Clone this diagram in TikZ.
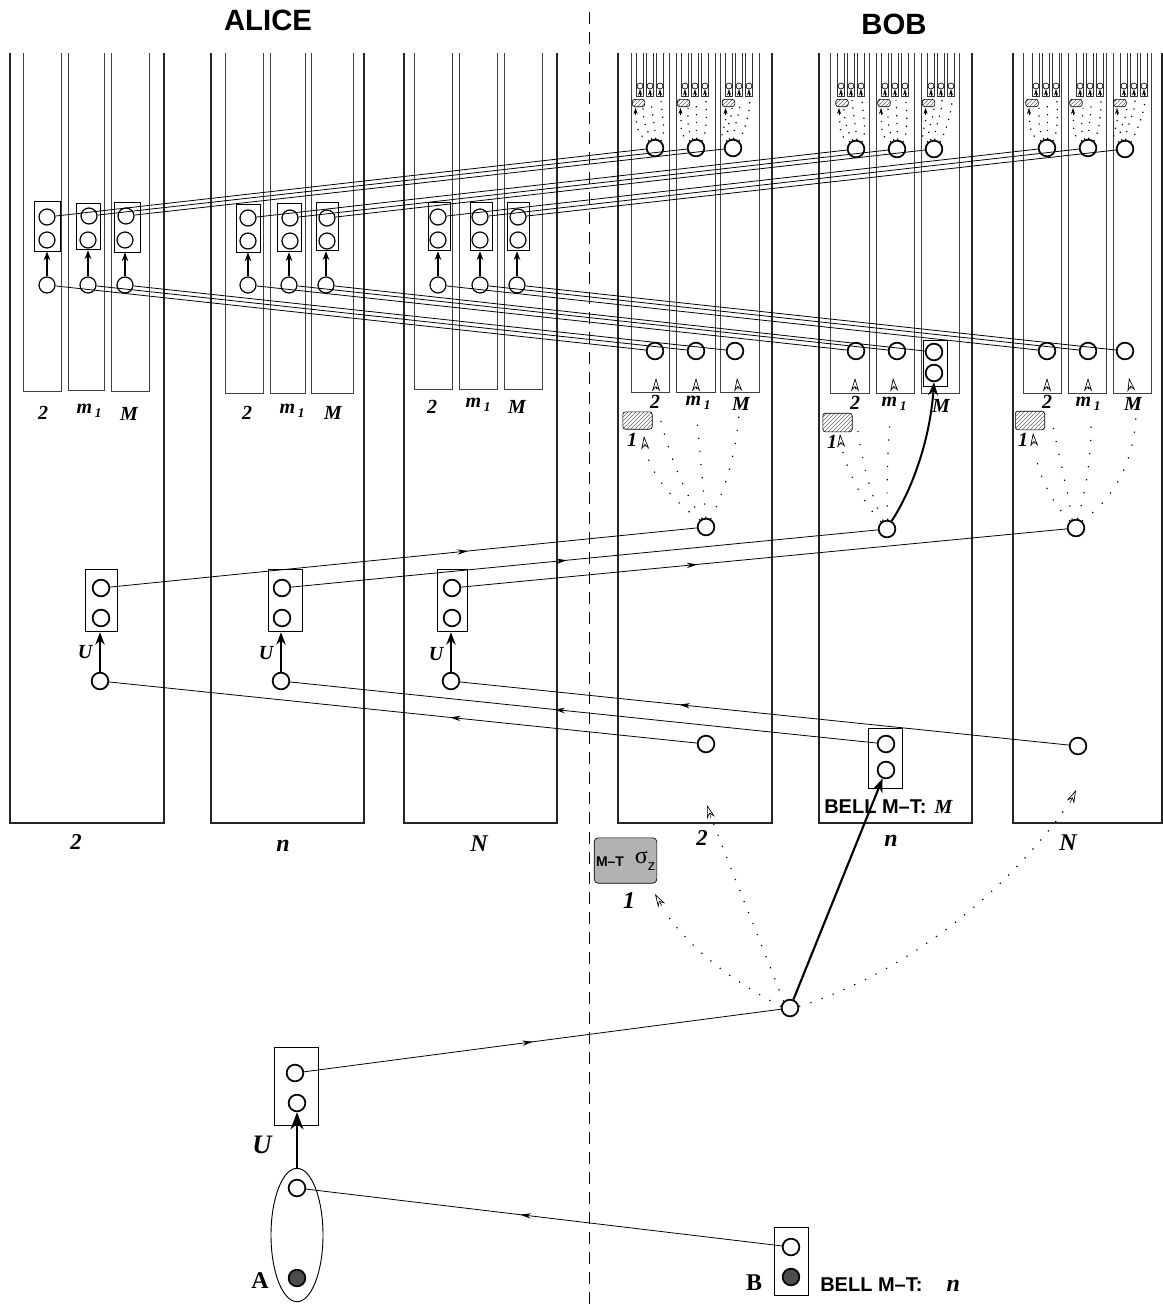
\documentclass[tikz,border=0pt]{standalone}
\usepackage{fontspec}
\setmainfont{Liberation Serif}
\setsansfont{Liberation Sans}
\usepackage{tikz}
\usetikzlibrary{arrows.meta,decorations.markings,patterns,shapes.geometric}
\newcommand{\mone}{\textbf{\textit{m}}\hspace{2pt}\raisebox{-3pt}{\fontsize{10}{10}\selectfont\textit{1}}}

\begin{document}
\begin{tikzpicture}[x=0.75pt, y=-0.75pt, >=Stealth,
    bigpanel/.style={line width=1pt, black!85},
    subpanel/.style={line width=0.7pt, black!75},
    qubit/.style={circle, draw, line width=1.3pt, inner sep=0pt, minimum size=12.5pt},
    qubitsmall/.style={circle, draw, line width=0.9pt, inner sep=0pt, minimum size=12pt},
    qubitdark/.style={qubit, fill=black!70},
    miniq/.style={circle, draw, line width=0.5pt, inner sep=0pt, minimum size=4.5pt},
    pairbox/.style={rectangle, draw, line width=0.6pt, inner sep=0pt},
    hatchbox/.style={rectangle, rounded corners=2pt, draw, line width=0.5pt, pattern=north east lines, pattern color=black!60, inner sep=0pt},
    link/.style={line width=0.6pt},
    flow/.style={line width=0.6pt, postaction={decorate}, decoration={markings, mark=at position #1 with {\arrow{Stealth[length=8pt,width=4pt]}}}},
    up/.style={->, line width=0.8pt},
    fan/.style={line width=0.9pt, dash pattern=on 0.9pt off 9pt},
    fanlong/.style={line width=0.9pt, dash pattern=on 0.9pt off 8pt},
    fansmall/.style={line width=0.9pt, dash pattern=on 0.9pt off 5pt},
    tipopen/.style={-{Stealth[open,length=10pt,width=6pt,line width=0.5pt]}},
    lab/.style={font=\fontsize{15}{15}\selectfont\bfseries\itshape, inner sep=0pt},
    biglab/.style={font=\fontsize{18}{18}\selectfont\bfseries\itshape, inner sep=0pt},
    sanslab/.style={font=\fontsize{15}{15}\selectfont\sffamily\bfseries, inner sep=0pt}]

    \useasboundingbox (0,0) rectangle (1163,1304);

    % Titles and border between the two sides
    \node[font=\fontsize{22}{22}\selectfont\sffamily\bfseries] (alice) at (268,20) {ALICE};
    \node[font=\fontsize{22}{22}\selectfont\sffamily\bfseries] (bob) at (894,24) {BOB};
    \draw[dashed, dash pattern=on 9pt off 6pt, line width=0.6pt] (589,12) -- (589,1304);

    % Big panels
    \draw[bigpanel] (10,53) -- (10,823) -- (164,823) -- (164,53);
    \draw[bigpanel] (211,53) -- (211,823) -- (364,823) -- (364,53);
    \draw[bigpanel] (404,53) -- (404,823) -- (557,823) -- (557,53);
    \draw[bigpanel] (618,53) -- (618,823) -- (772,823) -- (772,53);
    \draw[bigpanel] (819,53) -- (819,823) -- (972,823) -- (972,53);
    \draw[bigpanel] (1013,53) -- (1013,823) -- (1162,823) -- (1162,53);

    % Columns, Alice
    \draw[subpanel] (23,53) -- (23,391) -- (61,391) -- (61,53);
    \draw[subpanel] (68,53) -- (68,390) -- (104,390) -- (104,53);
    \draw[subpanel] (111,53) -- (111,391) -- (149,391) -- (149,53);
    \draw[subpanel] (225,53) -- (225,393) -- (263,393) -- (263,53);
    \draw[subpanel] (270,53) -- (270,393) -- (305,393) -- (305,53);
    \draw[subpanel] (311,53) -- (311,393) -- (353,393) -- (353,53);
    \draw[subpanel] (414,53) -- (414,389) -- (452,389) -- (452,53);
    \draw[subpanel] (459,53) -- (459,389) -- (497,389) -- (497,53);
    \draw[subpanel] (504,53) -- (504,389) -- (542,389) -- (542,53);

    % Columns, Bob
    \draw[subpanel] (631,53) -- (631,392) -- (669,392) -- (669,53);
    \draw[subpanel] (676,53) -- (676,392) -- (715,392) -- (715,53);
    \draw[subpanel] (720,53) -- (720,392) -- (759,392) -- (759,53);
    \draw[subpanel] (830,53) -- (830,393) -- (869,393) -- (869,53);
    \draw[subpanel] (876,53) -- (876,393) -- (914,393) -- (914,53);
    \draw[subpanel] (921,53) -- (921,393) -- (959,393) -- (959,53);
    \draw[subpanel] (1023,53) -- (1023,393) -- (1061,393) -- (1061,53);
    \draw[subpanel] (1068,53) -- (1068,393) -- (1106,393) -- (1106,53);
    \draw[subpanel] (1113,53) -- (1113,393) -- (1151,393) -- (1151,53);

    % Alice, first level: panel 2
    \node[pairbox, minimum width=19.5pt, minimum height=37pt] (A2aB) at (47,226.5) {};
    \node[pairbox, minimum width=18pt, minimum height=35pt] (A2bB) at (88,226.5) {};
    \node[pairbox, minimum width=19pt, minimum height=37.5pt] (A2cB) at (127.5,227) {};
    \node[qubitsmall] (A2a) at (47,217) {};
    \node[qubitsmall] (A2a2) at (47,240) {};
    \node[qubitsmall] (A2a3) at (47,285) {};
    \node[qubitsmall] (A2b) at (89,216) {};
    \node[qubitsmall] (A2b2) at (88,240) {};
    \node[qubitsmall] (A2b3) at (88,285) {};
    \node[qubitsmall] (A2c) at (126,216) {};
    \node[qubitsmall] (A2c2) at (125,240) {};
    \node[qubitsmall] (A2c3) at (125,285) {};

    % panel n
    \node[pairbox, minimum width=18pt, minimum height=36pt] (AnaB) at (248,228) {};
    \node[pairbox, minimum width=18.5pt, minimum height=36.5pt] (AnbB) at (289.5,227.5) {};
    \node[pairbox, minimum width=16.5pt, minimum height=36.5pt] (AncB) at (327,226.5) {};
    \node[qubitsmall] (Ana) at (248,218) {};
    \node[qubitsmall] (Ana2) at (248,241) {};
    \node[qubitsmall] (Ana3) at (248,285) {};
    \node[qubitsmall] (Anb) at (290,218) {};
    \node[qubitsmall] (Anb2) at (290,241) {};
    \node[qubitsmall] (Anb3) at (289,285) {};
    \node[qubitsmall] (Anc) at (327,218) {};
    \node[qubitsmall] (Anc2) at (327,241) {};
    \node[qubitsmall] (Anc3) at (326,285) {};

    % panel N
    \node[pairbox, minimum width=16.5pt, minimum height=36.5pt] (ANaB) at (439,226.5) {};
    \node[pairbox, minimum width=17pt, minimum height=36.5pt] (ANbB) at (481.5,226.5) {};
    \node[pairbox, minimum width=17pt, minimum height=36.5pt] (ANcB) at (518.5,226.5) {};
    \node[qubitsmall] (ANa) at (438,217) {};
    \node[qubitsmall] (ANa2) at (438,240) {};
    \node[qubitsmall] (ANa3) at (438,285) {};
    \node[qubitsmall] (ANb) at (480,217) {};
    \node[qubitsmall] (ANb2) at (480,240) {};
    \node[qubitsmall] (ANb3) at (480,285) {};
    \node[qubitsmall] (ANc) at (518,217) {};
    \node[qubitsmall] (ANc2) at (518,240) {};
    \node[qubitsmall] (ANc3) at (517,285) {};

    % Arrows inside Alice's columns
    \draw[up] (A2a3) -- (A2a3 |- A2aB.south);
    \draw[up] (A2b3) -- (A2b3 |- A2bB.south);
    \draw[up] (A2c3) -- (A2c3 |- A2cB.south);
    \draw[up] (Ana3) -- (Ana3 |- AnaB.south);
    \draw[up] (Anb3) -- (Anb3 |- AnbB.south);
    \draw[up] (Anc3) -- (Anc3 |- AncB.south);
    \draw[up] (ANa3) -- (ANa3 |- ANaB.south);
    \draw[up] (ANb3) -- (ANb3 |- ANbB.south);
    \draw[up] (ANc3) -- (ANc3 |- ANcB.south);

    % Column labels, Alice
    \node[lab] (l1) at (43,413) {2};
    \node[lab] (l2) at (89,411) {\mone};
    \node[lab] (l3) at (129,414) {M};
    \node[lab] (l4) at (247,413) {2};
    \node[lab] (l5) at (292,411) {\mone};
    \node[lab] (l6) at (333,413) {M};
    \node[lab] (l7) at (432,407) {2};
    \node[lab] (l8) at (478,405) {\mone};
    \node[lab] (l9) at (517,407) {M};

    % Bob, upper and lower qubits of each column
    \node[qubit] (B2a) at (655,148) {};
    \node[qubit] (B2b) at (696,148) {};
    \node[qubit] (B2c) at (733,148) {};
    \node[qubit] (Bna) at (856,149) {};
    \node[qubit] (Bnb) at (897,149) {};
    \node[qubit] (Bnc) at (934,149) {};
    \node[qubit] (BNa) at (1047,148) {};
    \node[qubit] (BNb) at (1088,148) {};
    \node[qubit] (BNc) at (1125,149) {};
    \node[qubit] (B2a3) at (655,351) {};
    \node[qubit] (B2b3) at (696,351) {};
    \node[qubit] (B2c3) at (735,351) {};
    \node[qubit] (Bna3) at (856,351) {};
    \node[qubit] (Bnb3) at (897,351) {};
    \node[qubit] (Bnc3) at (934,352) {};
    \node[qubit] (Bnc4) at (934,373) {};
    \node[pairbox, minimum width=18pt, minimum height=35pt] (BncB) at (935,363.5) {};
    \node[qubit] (BNa3) at (1047,351) {};
    \node[qubit] (BNb3) at (1088,351) {};
    \node[qubit] (BNc3) at (1125,351) {};

    % Top of each of Bob's columns, with its three little columns and the fan of dots
    \foreach \q/\x/\h in {B2a/640/638.5, B2b/685/683.5, B2c/729/728.5,
                          Bna/841/842, Bnb/885/884, Bnc/931/928.5,
                          BNa/1036/1032, BNb/1080/1076, BNc/1124/1120} {
        \foreach \k in {0,1,2} {
            \draw[line width=0.45pt, black!80] (\x+\k*10-3.7,53) -- (\x+\k*10-3.7,96) -- (\x+\k*10+3.7,96) -- (\x+\k*10+3.7,53);
            \node[miniq] (\q-m\k) at (\x+\k*10,86) {};
            \coordinate (\q-s\k) at (\x+\k*10,96);
            \draw[-{Stealth[length=4.5pt,width=3pt]}] (\q-s\k) -- (\q-m\k);
        }
        \node[hatchbox, minimum width=9.5pt, minimum height=5.5pt] (\q-h) at (\h,103) {};
        \coordinate (\q-f1) at (\h-3,115);
        \coordinate (\q-t1) at (\h-3,108);
        \coordinate (\q-f2) at (\x+3,108);
        \coordinate (\q-f3) at (\x+11,100);
        \coordinate (\q-f4) at (\x+21,99);
        \draw[-{Stealth[length=4.5pt,width=3pt]}] (\q-f1) -- (\q-t1);
        \draw[fansmall] (\q.130) .. controls +(-12,-6) and +(2,14) .. (\q-f1);
        \draw[fansmall] (\q.110) .. controls +(-6,-10) and +(0,12) .. (\q-f2);
        \draw[fansmall] (\q.85) .. controls +(-1,-12) and +(1,12) .. (\q-f3);
        \draw[fansmall] (\q.50) .. controls +(6,-10) and +(0,12) .. (\q-f4);
    }

    % Double lines from Alice to Bob, upper
    \draw[link] (A2a) -- (B2a);
    \draw[link] (A2b) -- (B2b);
    \draw[link] (A2c) -- (B2c);
    \draw[link] (Ana) -- (Bna);
    \draw[link] (Anb) -- (Bnb);
    \draw[link] (Anc) -- (Bnc);
    \draw[link] (ANa) -- (BNa);
    \draw[link] (ANb) -- (BNb);
    \draw[link] (ANc) -- (BNc);

    % lower
    \draw[link] (A2a3) -- (B2a3);
    \draw[link] (A2b3) -- (B2b3);
    \draw[link] (A2c3) -- (B2c3);
    \draw[link] (Ana3) -- (Bna3);
    \draw[link] (Anb3) -- (Bnb3);
    \draw[link] (Anc3) -- (Bnc3);
    \draw[link] (ANa3) -- (BNa3);
    \draw[link] (ANb3) -- (BNb3);
    \draw[link] (ANc3) -- (BNc3);

    % Bob, fans in the lower part of each panel
    \node[qubit] (F2) at (706,527) {};
    \node[qubit] (Fn) at (887,529) {};
    \node[qubit] (FN) at (1076,528) {};
    \node[hatchbox, minimum width=22pt, minimum height=13pt] (H2) at (637.5,420.5) {};
    \node[hatchbox, minimum width=22pt, minimum height=14pt] (Hn) at (837.5,422.5) {};
    \node[hatchbox, minimum width=22pt, minimum height=14pt] (HN) at (1030,420.5) {};

    \coordinate (e21) at (648,458);
    \coordinate (e22) at (659,414);
    \coordinate (e23) at (697,421);
    \coordinate (e24) at (739,413);
    \draw[fan] (F2.130) .. controls (680,507) and (655,480) .. (e21);
    \draw[fan] (F2.115) .. controls (682,490) and (668,450) .. (e22);
    \draw[fan] (F2.90) .. controls (703,490) and (700,450) .. (e23);
    \draw[fan] (F2.60) .. controls (725,490) and (737,450) .. (e24);

    \coordinate (en1) at (842,449);
    \coordinate (en2) at (857,423);
    \coordinate (en3) at (890,421);
    \draw[fan] (Fn.130) .. controls (865,505) and (850,478) .. (en1);
    \draw[fan] (Fn.115) .. controls (868,490) and (860,450) .. (en2);
    \draw[fan] (Fn.85) .. controls (886,480) and (888,450) .. (en3);
    \draw[->, line width=1.5pt] (Fn.60) .. controls (912,490) and (930,440) .. (Bnc4.south);

    \coordinate (eN1) at (1036,457);
    \coordinate (eN2) at (1052,422);
    \coordinate (eN3) at (1091,421);
    \coordinate (eN4) at (1136,414);
    \draw[fan] (FN.130) .. controls (1056,508) and (1040,480) .. (eN1);
    \draw[fan] (FN.115) .. controls (1070,502) and (1060,460) .. (eN2);
    \draw[fan] (FN.80) .. controls (1083,502) and (1092,460) .. (eN3);
    \draw[fan] (FN.50) .. controls (1112,500) and (1134,465) .. (eN4);

    % Open tips, Bob's columns
    \coordinate (o1) at (656,389); \coordinate (o1t) at (656,378);
    \coordinate (o2) at (696,389); \coordinate (o2t) at (696,378);
    \coordinate (o3) at (738,389); \coordinate (o3t) at (737,378);
    \coordinate (o4) at (855,389); \coordinate (o4t) at (855,378);
    \coordinate (o5) at (894,389); \coordinate (o5t) at (893,378);
    \coordinate (o6) at (1047,389); \coordinate (o6t) at (1047,378);
    \coordinate (o7) at (1088,389); \coordinate (o7t) at (1088,378);
    \coordinate (o8) at (1131,389); \coordinate (o8t) at (1129,378);
    \coordinate (o9) at (645,447); \coordinate (o9t) at (644,436);
    \coordinate (o10) at (841,445); \coordinate (o10t) at (840,434);
    \coordinate (o11) at (1034,444); \coordinate (o11t) at (1033,433);
    \draw[tipopen] (o1) -- (o1t);
    \draw[tipopen] (o2) -- (o2t);
    \draw[tipopen] (o3) -- (o3t);
    \draw[tipopen] (o4) -- (o4t);
    \draw[tipopen] (o5) -- (o5t);
    \draw[tipopen] (o6) -- (o6t);
    \draw[tipopen] (o7) -- (o7t);
    \draw[tipopen] (o8) -- (o8t);
    \draw[tipopen] (o9) -- (o9t);
    \draw[tipopen] (o10) -- (o10t);
    \draw[tipopen] (o11) -- (o11t);

    % Column labels, Bob
    \node[lab] (l10) at (655,402) {2};
    \node[lab] (l11) at (698,403) {\mone};
    \node[lab] (l12) at (741,404) {M};
    \node[lab] (l13) at (855,403) {2};
    \node[lab] (l14) at (894,404) {\mone};
    \node[lab] (l15) at (941,406) {M};
    \node[lab] (l16) at (1047,402) {2};
    \node[lab] (l17) at (1088,404) {\mone};
    \node[lab] (l18) at (1133,404) {M};
    \node[lab] (l19) at (632,440) {1};
    \node[lab] (l20) at (832,442) {1};
    \node[lab] (l21) at (1023,440) {1};

    % Second level, Alice
    \node[pairbox, minimum width=24pt, minimum height=47pt] (S2B) at (101,600.5) {};
    \node[pairbox, minimum width=25.5pt, minimum height=47pt] (SnB) at (285,600.5) {};
    \node[pairbox, minimum width=23pt, minimum height=47pt] (SNB) at (452.5,600.5) {};
    \node[qubit] (S2) at (101,588) {};
    \node[qubit] (S2b) at (101,618) {};
    \node[qubit] (Sn) at (282,588) {};
    \node[qubit] (Snb) at (282,618) {};
    \node[qubit] (SN) at (452,588) {};
    \node[qubit] (SNb) at (452,618) {};
    \node[qubit] (T2) at (100,681) {};
    \node[qubit] (Tn) at (281,681) {};
    \node[qubit] (TN) at (451,681) {};
    \draw[->, line width=1.4pt] (T2) -- (T2 |- S2B.south);
    \draw[->, line width=1.4pt] (Tn) -- (Tn |- SnB.south);
    \draw[->, line width=1.4pt] (TN) -- (TN |- SNB.south);
    \node[lab] (u1) at (85,652) {U};
    \node[lab] (u2) at (266,653) {U};
    \node[lab] (u3) at (436,654) {U};

    % Second level, Bob
    \node[qubit] (R2) at (706,744) {};
    \node[qubit] (Rn) at (886,744) {};
    \node[qubit] (Rnb) at (886,770) {};
    \node[pairbox, minimum width=25.5pt, minimum height=45pt] (RnB) at (885,758) {};
    \node[qubit] (RN) at (1078,746) {};

    \draw[flow=0.61] (S2) -- (F2);
    \draw[flow=0.47] (Sn) -- (Fn);
    \draw[flow=0.39] (SN) -- (FN);
    \draw[flow=0.42] (R2) -- (T2);
    \draw[flow=0.55] (Rn) -- (Tn);
    \draw[flow=0.64] (RN) -- (TN);

    % Big panel labels
    \node[lab, font=\fontsize{17}{17}\selectfont\bfseries\itshape] (p1) at (76,842) {2};
    \node[biglab] (p2) at (283,846) {n};
    \node[biglab] (p3) at (479,844) {N};
    \node[lab, font=\fontsize{17}{17}\selectfont\bfseries\itshape] (p4) at (702,838) {2};
    \node[biglab] (p5) at (891,841) {n};
    \node[biglab] (p6) at (1068,843) {N};
    \node[sanslab, anchor=west] (bellM) at (824,807) {BELL M--T: \hspace{2pt}{\rmfamily\itshape M}};

    % Measurement box
    \node[rectangle, rounded corners=3pt, draw, line width=0.5pt, fill=black!30, minimum width=47pt, minimum height=34pt, inner sep=0pt] (MT) at (625.5,860.5) {};
    \node[font=\fontsize{10.5}{11}\selectfont\sffamily\bfseries, inner sep=0pt] (MTt) at (610,862) {M--T};
    \node[inner sep=0pt, font=\fontsize{18}{18}\selectfont] (MTs) at (645,861) {σ\raisebox{-5pt}{\fontsize{11}{11}\selectfont\sffamily z}};
    \node[biglab] (p7) at (629,901) {1};

    % Bottom source and its arrows
    \node[qubit] (C) at (790,1008) {};
    \node[pairbox, minimum width=33.5pt, minimum height=58.5pt] (DB) at (296.5,1086) {};
    \node[qubit] (D) at (295,1073) {};
    \node[qubit] (D2) at (297,1103) {};
    \node[draw, ellipse, line width=0.7pt, minimum width=39pt, minimum height=100pt, inner sep=0pt] (Eb) at (297,1235) {};
    \node[qubit] (E) at (297,1188) {};
    \node[qubitdark] (Ef) at (297,1278) {};
    \node[pairbox, minimum width=26pt, minimum height=51pt] (GB) at (791.5,1261) {};
    \node[qubit] (G) at (791,1247) {};
    \node[qubitdark] (Gf) at (791,1277) {};

    \draw[flow=0.48] (D) -- (C);
    \draw[flow=0.55] (G) -- (E);
    \draw[->, line width=2.2pt] (Eb.north) -- (D2);
    \draw[->, line width=1.6pt] (C) -- (Rnb);

    \coordinate (c1) at (665,912);
    \coordinate (c2) at (713,822);
    \coordinate (c3) at (1068,805);
    \coordinate (o12) at (662,906); \coordinate (o12t) at (655,894);
    \coordinate (o13) at (711,818); \coordinate (o13t) at (707,805);
    \coordinate (o14) at (1070,803); \coordinate (o14t) at (1076,790);
    \draw[fanlong] (C.170) .. controls (740,985) and (695,955) .. (c1);
    \draw[fanlong] (C.135) .. controls (770,965) and (735,880) .. (c2);
    \draw[fanlong] (C.10) .. controls (900,975) and (1000,900) .. (c3);
    \draw[tipopen] (o12) -- (o12t);
    \draw[tipopen] (o13) -- (o13t);
    \draw[tipopen] (o14) -- (o14t);

    % Bottom labels
    \node[lab, font=\fontsize{20}{20}\selectfont\bfseries\itshape] (UU) at (262,1145) {U};
    \node[lab, font=\fontsize{18}{18}\selectfont\bfseries] (AA) at (260,1281) {A};
    \node[lab, font=\fontsize{18}{18}\selectfont\bfseries] (BB) at (754,1283) {B};
    \node[sanslab, anchor=west] (belln) at (820,1285) {BELL M--T: \hspace{14pt}{\rmfamily\itshape\fontsize{18}{18}\selectfont n}};
\end{tikzpicture}
\end{document}
